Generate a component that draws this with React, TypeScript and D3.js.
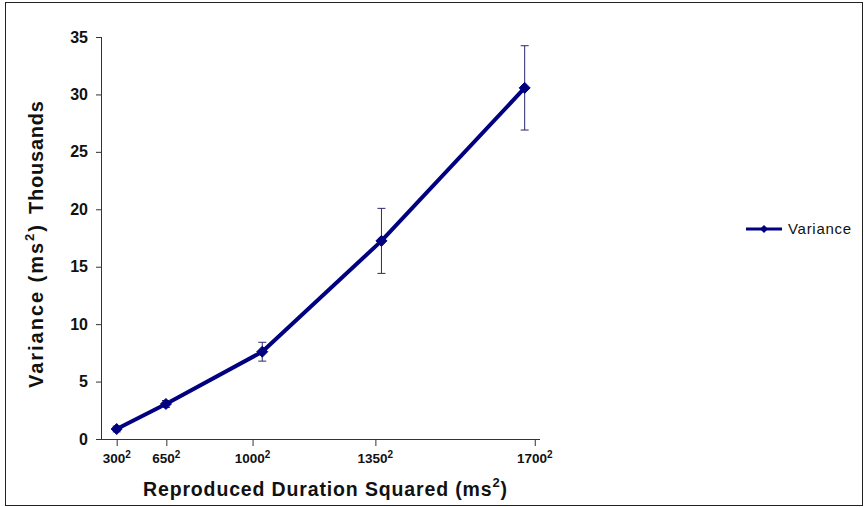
import React from "react";
import * as d3 from "d3";

// Reproduced durations (ms); plotted on the x axis as their squares
const durations = [300, 648, 1032, 1365, 1680];
// Variance in thousands of ms²
const variance = [0.87, 3.05, 7.6, 17.25, 30.57];
const varianceErr = [0.25, 0.3, 0.82, 2.83, 3.67];
const xTickDurations = [300, 650, 1000, 1350, 1700];
const yTicks = [0, 5, 10, 15, 20, 25, 30, 35];
const seriesName = "Variance";

const W = 865;
const H = 507;
const NAVY = "#000080";
const FONT = "Arial, 'Liberation Sans', Helvetica, sans-serif";

export default function App() {
  const x = d3.scaleLinear().domain([-15000, 2925000]).range([101, 540]);
  const y = d3.scaleLinear().domain([0, 35]).range([439, 37]);

  const pts = durations.map((d, i) => ({ px: x(d * d), v: variance[i], e: varianceErr[i] }));
  const line = d3
    .line<{ px: number; v: number }>()
    .x((p) => p.px)
    .y((p) => y(p.v));

  const diamond = (cx: number, cy: number, r: number) =>
    `M${cx},${cy - r}L${cx + r},${cy}L${cx},${cy + r}L${cx - r},${cy}Z`;

  const [x0, x1] = x.range();
  const [y0, y1] = y.range();

  return (
    <div style={{ position: "fixed", left: 0, top: 0 }}>
      <svg width={W} height={H} style={{ display: "block", background: "#fff" }}>
        <rect x={5.5} y={2.5} width={857} height={503} fill="#fff" stroke="#222" strokeWidth={1} />

        {/* y axis */}
        <line x1={x0 + 0.5} x2={x0 + 0.5} y1={y1} y2={y0} stroke="#333" />
        {yTicks.map((t) => (
          <g key={t}>
            <line x1={x0 - 5} x2={x0} y1={y(t) + 0.5} y2={y(t) + 0.5} stroke="#333" />
            <text
              x={88}
              y={y(t)}
              dy="0.35em"
              textAnchor="end"
              fontFamily={FONT}
              fontWeight="bold"
              fontSize={16}
              fill="#111"
            >
              {t}
            </text>
          </g>
        ))}

        {/* x axis */}
        <line x1={x0} x2={x1} y1={y0 + 0.5} y2={y0 + 0.5} stroke="#333" />
        {xTickDurations.map((d) => (
          <g key={d}>
            <line x1={x(d * d) + 0.5} x2={x(d * d) + 0.5} y1={y0} y2={y0 + 7} stroke="#333" />
            <text
              x={x(d * d)}
              y={463}
              textAnchor="middle"
              fontFamily={FONT}
              fontWeight="bold"
              fontSize={13.5}
              fill="#111"
            >
              {d}
              <tspan fontSize={10} dy={-5}>
                2
              </tspan>
            </text>
          </g>
        ))}

        {/* axis titles */}
        <text
          x={143}
          y={496}
          textLength={364}
          lengthAdjust="spacing"
          fontFamily={FONT}
          fontWeight="bold"
          fontSize={19.5}
          fill="#111"
        >
          Reproduced Duration Squared (ms
          <tspan fontSize={13} dy={-9}>
            2
          </tspan>
          <tspan dy={9}>)</tspan>
        </text>
        <text
          transform="translate(43,388) rotate(-90)"
          textLength={163}
          lengthAdjust="spacing"
          fontFamily={FONT}
          fontWeight="bold"
          fontSize={20}
          fill="#111"
        >
          Variance (ms
          <tspan fontSize={13} dy={-9}>
            2
          </tspan>
          <tspan dy={9}>)</tspan>
        </text>
        <text
          transform="translate(43,214) rotate(-90)"
          textLength={113}
          lengthAdjust="spacing"
          fontFamily={FONT}
          fontWeight="bold"
          fontSize={20}
          fill="#111"
        >
          Thousands
        </text>

        {/* series line */}
        <path d={line(pts) || ""} fill="none" stroke={NAVY} strokeWidth={4} strokeLinejoin="round" />

        {/* error bars */}
        {pts.map((p, i) => (
          <g key={`e${i}`} stroke="#2a2a70" strokeWidth={1}>
            <line x1={p.px} x2={p.px} y1={y(p.v + p.e)} y2={y(p.v - p.e)} />
            <line x1={p.px - 4} x2={p.px + 4} y1={y(p.v + p.e)} y2={y(p.v + p.e)} />
            <line x1={p.px - 4} x2={p.px + 4} y1={y(p.v - p.e)} y2={y(p.v - p.e)} />
          </g>
        ))}

        {/* markers */}
        {pts.map((p, i) => (
          <path key={`m${i}`} d={diamond(p.px, y(p.v), 5.5)} fill={NAVY} stroke={NAVY} />
        ))}

        {/* legend */}
        <line x1={746} x2={782} y1={229} y2={229} stroke={NAVY} strokeWidth={3} />
        <path d={diamond(764, 229, 4)} fill={NAVY} />
        <text
          x={788}
          y={234}
          textLength={63}
          lengthAdjust="spacing"
          fontFamily={FONT}
          fontSize={15}
          fill="#111"
        >
          {seriesName}
        </text>
      </svg>
    </div>
  );
}
